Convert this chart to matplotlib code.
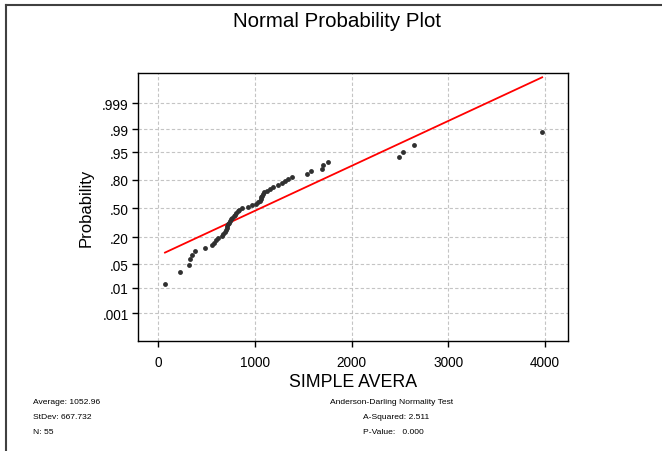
import matplotlib
matplotlib.use("Agg")
import matplotlib.pyplot as plt
from matplotlib.lines import Line2D
from matplotlib import font_manager as fm
from statistics import NormalDist
import numpy as np

# ---- data ----
values = [69, 224, 317, 325, 352, 383, 483, 552, 571, 594,
          614, 655, 672, 690, 700, 707, 713, 724, 731, 741,
          752, 765, 778, 793, 803, 819, 835, 862, 931, 972,
          1007, 1031, 1047, 1062, 1067, 1075, 1083, 1096, 1121, 1155,
          1189, 1241, 1276, 1310, 1344, 1380, 1535, 1582, 1690, 1706,
          1758, 2490, 2534, 2648, 3970]
prob_ticks = [0.001, 0.01, 0.05, 0.20, 0.50, 0.80, 0.95, 0.99, 0.999]
prob_labels = [".001", ".01", ".05", ".20", ".50", ".80", ".95", ".99", ".999"]
x_ticks = [0, 1000, 2000, 3000, 4000]
line_mean = 1052.96
line_sd = 757.0
stats_left = ["Average: 1052.96", "StDev: 667.732", "N: 55"]
stats_right = ["Anderson-Darling Normality Test", "A-Squared: 2.511", "P-Value:   0.000"]

nd = NormalDist()
xs = np.sort(np.array(values, dtype=float))
n = len(xs)
ranks = np.arange(1, n + 1)
pp = (ranks - 0.3) / (n + 0.4)
zs = np.array([nd.inv_cdf(p) for p in pp])

plt.rcParams['font.family'] = ['Liberation Sans', 'DejaVu Sans']

installed = {f.name for f in fm.fontManager.ttflist}
if 'Liberation Sans Narrow' in installed:
    small_family, small_size = ['Liberation Sans Narrow'], 7.3
elif 'DejaVu Sans Condensed' in installed:
    small_family, small_size = ['DejaVu Sans Condensed'], 6.6
else:
    small_family, small_size = ['Liberation Sans', 'DejaVu Sans'], 6.1

fig = plt.figure(figsize=(6.62, 4.52), dpi=100)
ax = fig.add_axes([138.3 / 662, 1 - 341.7 / 452, (567.7 - 138.3) / 662, (341.7 - 74) / 452])

ax.set_xlim(-207, 4234)
ax.set_ylim(-3.89, 3.98)

ax.grid(True, linestyle=(0, (3, 2)), color='#c4c4c4', linewidth=0.8)
ax.set_axisbelow(True)

# fitted line
lx = np.array([xs.min(), xs.max()])
lz = (lx - line_mean) / line_sd
ax.plot(lx, lz, color='#ff0000', linewidth=1.3, zorder=3)

ax.plot(xs, zs, 'o', color='#303030', markersize=3.5, markeredgewidth=0, zorder=4)

ax.set_xticks(x_ticks)
ax.set_xticklabels([str(t) for t in x_ticks])
ax.set_yticks([nd.inv_cdf(p) for p in prob_ticks])
ax.set_yticklabels(prob_labels)
ax.tick_params(axis='both', direction='out', length=4, width=1, labelsize=9.8, colors='black')
ax.tick_params(axis='x', pad=6)
ax.tick_params(axis='y', pad=3)
for s in ax.spines.values():
    s.set_linewidth(1.0)
    s.set_color('black')

ax.set_ylabel("Probability", fontsize=12, labelpad=6)
ax.set_xlabel("SIMPLE AVERA", fontsize=12.8, labelpad=3)

fig.text(336.7 / 662, 1 - 21.5 / 452, "Normal Probability Plot", ha='center', va='center', fontsize=14.8)

for i, t in enumerate(stats_left):
    fig.text(33 / 662, 1 - (403 + 15 * i) / 452, t, ha='left', va='center', fontsize=small_size, family=small_family)
fig.text(330 / 662, 1 - 403 / 452, stats_right[0], ha='left', va='center', fontsize=small_size, family=small_family)
for i, t in enumerate(stats_right[1:]):
    fig.text(363.3 / 662, 1 - (418 + 15 * i) / 452, t, ha='left', va='center', fontsize=small_size, family=small_family)

# partial outer frame (top and left)
fig.add_artist(Line2D([6 / 662, 1.0], [1 - 6 / 452, 1 - 6 / 452], transform=fig.transFigure, color='#404040', linewidth=1.5))
fig.add_artist(Line2D([6 / 662, 6 / 662], [0.0, 1 - 6 / 452], transform=fig.transFigure, color='#404040', linewidth=1.5))

fig.savefig("out.png", dpi=100, facecolor='white')
